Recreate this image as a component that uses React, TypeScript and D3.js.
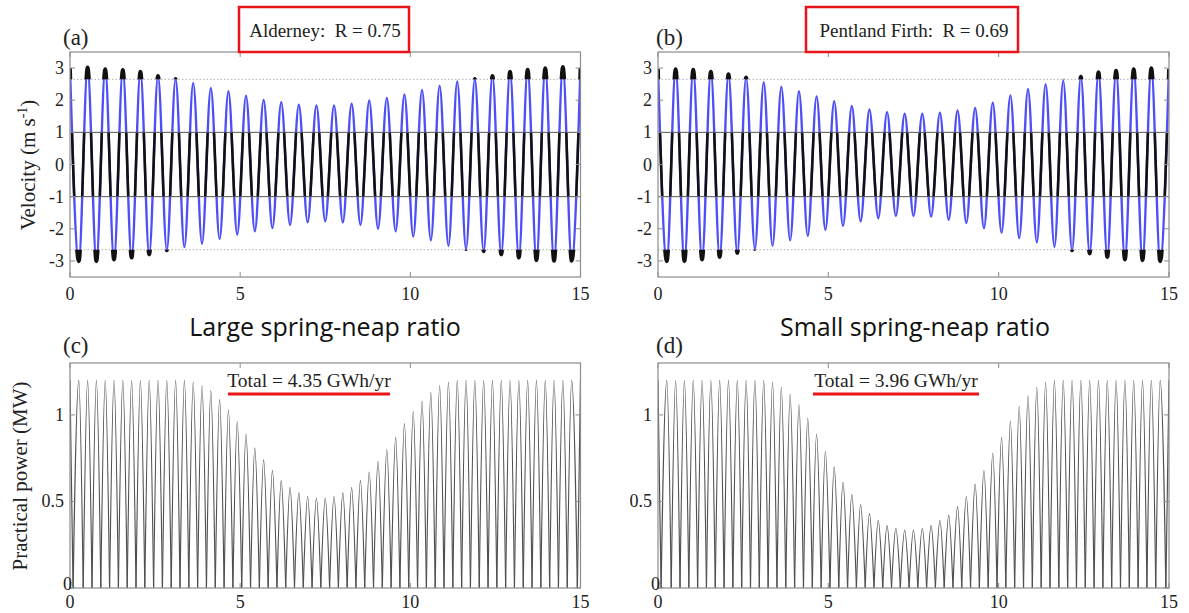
import React from "react";
import * as d3 from "d3";

// ---- data ----
const HALF_PERIOD = 0.2586; // days between successive flood / ebb extremes
const CUT_IN = 1.0; // m/s
const RATED = 2.65; // m/s

const dayTicks = [0, 5, 10, 15];
const velocityTicks = [-3, -2, -1, 0, 1, 2, 3];
const powerTicks = [0, 0.5, 1];

// flood (positive) peak speeds, one per tidal cycle
const alderneyFlood = [3.0, 3.02, 2.97, 2.94, 2.89, 2.76, 2.66, 2.54, 2.38, 2.28, 2.14, 2.01, 1.94, 1.86, 1.84, 1.84, 1.89, 1.99, 2.07, 2.18, 2.32, 2.45, 2.58, 2.66, 2.76, 2.89, 2.95, 3.0, 3.04, 3.0];
// ebb (negative) peak speeds
const alderneyEbb = [-3.01, -3.01, -2.96, -2.9, -2.8, -2.67, -2.57, -2.47, -2.32, -2.18, -2.08, -1.98, -1.88, -1.8, -1.77, -1.8, -1.88, -2.0, -2.08, -2.24, -2.36, -2.53, -2.63, -2.7, -2.8, -2.9, -2.98, -3.0, -3.0];

const pentlandFlood = [2.97, 2.97, 2.95, 2.89, 2.81, 2.71, 2.56, 2.42, 2.28, 2.12, 1.97, 1.82, 1.71, 1.63, 1.58, 1.58, 1.61, 1.68, 1.76, 1.92, 2.15, 2.35, 2.5, 2.61, 2.73, 2.87, 2.92, 2.97, 3.0, 2.97];
const pentlandEbb = [-3.01, -3.01, -2.96, -2.88, -2.75, -2.63, -2.53, -2.36, -2.22, -2.03, -1.91, -1.77, -1.67, -1.6, -1.6, -1.62, -1.72, -1.82, -1.98, -2.12, -2.29, -2.42, -2.56, -2.67, -2.77, -2.88, -2.96, -2.98, -3.01];

// practical power peak per half tidal cycle (MW)
const alderneyPower = [1.2, 1.2, 1.2, 1.2, 1.2, 1.2, 1.2, 1.2, 1.2, 1.2, 1.2, 1.2, 1.2, 1.2,
  1.19, 1.17, 1.14, 1.09, 1.03, 0.96, 0.89, 0.81, 0.74, 0.68, 0.62, 0.58, 0.55, 0.53, 0.52,
  0.52, 0.53, 0.55, 0.58, 0.62, 0.67, 0.73, 0.8, 0.87, 0.95, 1.02, 1.08, 1.13, 1.17, 1.19,
  1.2, 1.2, 1.2, 1.2, 1.2, 1.2, 1.2, 1.2, 1.2, 1.2, 1.2, 1.2, 1.2, 1.2, 1.2];
const pentlandPower = [1.2, 1.2, 1.2, 1.2, 1.2, 1.2, 1.2, 1.2, 1.2, 1.2, 1.2, 1.2, 1.2,
  1.19, 1.16, 1.12, 1.06, 0.98, 0.89, 0.79, 0.7, 0.61, 0.54, 0.48, 0.43, 0.39, 0.36, 0.345,
  0.335, 0.335, 0.345, 0.36, 0.39, 0.42, 0.47, 0.53, 0.6, 0.68, 0.78, 0.87, 0.965, 1.05,
  1.11, 1.16, 1.19,
  1.2, 1.2, 1.2, 1.2, 1.2, 1.2, 1.2, 1.2, 1.2, 1.2, 1.2, 1.2, 1.2, 1.2];

const siteNames = ["Alderney", "Pentland Firth"];
const siteR = ["0.75", "0.69"];
const totals = ["4.35", "3.96"];
const ratioTitles = ["Large spring-neap ratio", "Small spring-neap ratio"];

// ---- layout ----
const W = 1189;
const H = 613;
const COLS = [
  [70, 580.5],
  [658, 1169],
];
const TOP_ROW = [52, 277];
const BOT_ROW = [363, 588];
const SERIF = "'Liberation Serif', 'Times New Roman', serif";
const SANS = "'Open Sans', 'Noto Sans', sans-serif";

function Frame({ x, y, xt, yt, tickLen = 5 }: any) {
  const [x0, x1] = x.range();
  const [y1, y0] = y.range();
  return (
    <g>
      <rect x={x0} y={y0} width={x1 - x0} height={y1 - y0} fill="none" stroke="#8c8c8c" strokeWidth={1.2} />
      {xt.map((t: number) => (
        <g key={"xt" + t} stroke="#8c8c8c" strokeWidth={1}>
          <line x1={x(t)} x2={x(t)} y1={y1} y2={y1 - tickLen} />
          <line x1={x(t)} x2={x(t)} y1={y0} y2={y0 + tickLen} />
        </g>
      ))}
      {yt.map((t: number) => (
        <g key={"yt" + t} stroke="#8c8c8c" strokeWidth={1}>
          <line x1={x0} x2={x0 + tickLen} y1={y(t)} y2={y(t)} />
          <line x1={x1} x2={x1 - tickLen} y1={y(t)} y2={y(t)} />
        </g>
      ))}
    </g>
  );
}

function VelocityPanel({ col, flood, ebb, id }: any) {
  const [px0, px1] = COLS[col];
  const x = d3.scaleLinear().domain([0, 15]).range([px0, px1]);
  const y = d3.scaleLinear().domain([-3.5, 3.5]).range([TOP_ROW[1], TOP_ROW[0]]);
  const n = flood.length + ebb.length;
  const pts: [number, number][] = [];
  for (let k = 0; k < n; k++) {
    pts.push([k * HALF_PERIOD, k % 2 === 0 ? flood[k / 2] : ebb[(k - 1) / 2]]);
  }
  const line = d3
    .line<[number, number]>()
    .x((d) => x(d[0]))
    .y((d) => y(d[1]))
    .curve(d3.curveMonotoneX);
  const path = line(pts) || "";
  const [y1, y0] = y.range();
  return (
    <g>
      <defs>
        <clipPath id={id + "-plot"}>
          <rect x={px0} y={y0} width={px1 - px0} height={y1 - y0} />
        </clipPath>
        <clipPath id={id + "-band"}>
          <rect x={px0} y={y(CUT_IN)} width={px1 - px0} height={y(-CUT_IN) - y(CUT_IN)} />
        </clipPath>
        <clipPath id={id + "-peak"}>
          <rect x={px0} y={y0 - 2} width={px1 - px0} height={y(RATED) - y0 + 2} />
          <rect x={px0} y={y(-RATED)} width={px1 - px0} height={y1 - y(-RATED) + 2} />
        </clipPath>
      </defs>
      {[RATED, -RATED].map((v) => (
        <line key={"r" + v} x1={px0} x2={px1} y1={y(v)} y2={y(v)} stroke="#b0b0b0" strokeWidth={1} strokeDasharray="1.5 2" />
      ))}
      <g clipPath={`url(#${id}-plot)`}>
        <path d={path} fill="none" stroke="#4f4ff7" strokeWidth={2.4} />
        <path d={path} fill="none" stroke="#111" strokeWidth={2.6} clipPath={`url(#${id}-band)`} />
        <path d={path} fill="none" stroke="#111" strokeWidth={3.8} clipPath={`url(#${id}-peak)`} />
      </g>
      {[CUT_IN, -CUT_IN].map((v) => (
        <line key={"c" + v} x1={px0} x2={px1} y1={y(v)} y2={y(v)} stroke="#555" strokeWidth={1} />
      ))}
      <Frame x={x} y={y} xt={dayTicks} yt={velocityTicks} />
      {velocityTicks.map((t) => (
        <text key={"vl" + t} x={px0 - 6} y={y(t) + 6} textAnchor="end" fontFamily={SERIF} fontSize={18} fill="#222">
          {t < 0 ? "-" + Math.abs(t) : t}
        </text>
      ))}
      {dayTicks.map((t) => (
        <text key={"dl" + t} x={x(t)} y={300} textAnchor="middle" fontFamily={SERIF} fontSize={18} fill="#222">
          {t}
        </text>
      ))}
    </g>
  );
}

function PowerPanel({ col, power, id }: any) {
  const [px0, px1] = COLS[col];
  const x = d3.scaleLinear().domain([0, 15]).range([px0, px1]);
  const y = d3.scaleLinear().domain([0, 1.3]).range([BOT_ROW[1], BOT_ROW[0]]);
  // signed series: flood pulses up, ebb pulses down; the ebb half is folded back above zero
  const pts: [number, number][] = power.map((p: number, k: number) => [k * HALF_PERIOD, k % 2 === 0 ? p : -p]);
  const line = d3
    .line<[number, number]>()
    .x((d) => x(d[0]))
    .y((d) => y(d[1]))
    .curve(d3.curveMonotoneX);
  const d = line(pts) || "";
  const [y1, y0] = y.range();
  const zero = y(0);
  return (
    <g>
      <defs>
        <clipPath id={id + "-plot"}>
          <rect x={px0} y={y0} width={px1 - px0} height={zero - y0} />
        </clipPath>
      </defs>
      <g clipPath={`url(#${id}-plot)`}>
        <path d={d} fill="none" stroke="#505050" strokeWidth={1.15} />
        <g transform={`translate(0,${2 * zero}) scale(1,-1)`}>
          <path d={d} fill="none" stroke="#505050" strokeWidth={1.15} />
        </g>
      </g>
      <Frame x={x} y={y} xt={dayTicks} yt={powerTicks} />
      {powerTicks.map((t) => (
        <text
          key={"pl" + t}
          x={t === 0 ? px0 + 2 : px0 - 6}
          y={t === 0 ? y(t) + 2 : y(t) + 6}
          textAnchor="end"
          fontFamily={SERIF}
          fontSize={18}
          fill="#222"
        >
          {t}
        </text>
      ))}
      {dayTicks.map((t) => (
        <text key={"dl" + t} x={x(t)} y={608} textAnchor="middle" fontFamily={SERIF} fontSize={18} fill="#222">
          {t}
        </text>
      ))}
    </g>
  );
}

export default function App() {
  const boxes = [
    [239, 409],
    [806, 1018],
  ];
  const underlines = [
    [228, 390],
    [813, 979],
  ];
  const titleCx = [325, 914];
  return (
    <svg width={W} height={H} style={{ position: "absolute", left: 0, top: 0, background: "#fff" }}>
      <rect x={0} y={0} width={W} height={H} fill="#fff" />
      <VelocityPanel col={0} flood={alderneyFlood} ebb={alderneyEbb} id="va" />
      <VelocityPanel col={1} flood={pentlandFlood} ebb={pentlandEbb} id="vb" />
      <PowerPanel col={0} power={alderneyPower} id="pc" />
      <PowerPanel col={1} power={pentlandPower} id="pd" />

      {/* panel letters */}
      {["(a)", "(b)"].map((s, i) => (
        <text key={s} x={COLS[i][0] - 7 + (i === 1 ? 5 : 0)} y={45} fontFamily={SERIF} fontSize={23} fill="#222">
          {s}
        </text>
      ))}
      {["(c)", "(d)"].map((s, i) => (
        <text key={s} x={COLS[i][0] - 7 + (i === 1 ? 5 : 0)} y={353} fontFamily={SERIF} fontSize={23} fill="#222">
          {s}
        </text>
      ))}

      {/* site boxes */}
      {boxes.map(([a, b], i) => (
        <g key={"box" + i}>
          <rect x={a} y={7} width={b - a} height={45} fill="#fff" stroke="#e8141a" strokeWidth={2.5} />
          <text x={titleCx[i]} y={37} textAnchor="middle" fontFamily={SERIF} fontSize={19} fill="#222" style={{ whiteSpace: "pre" }}>
            {siteNames[i] + ":  R = " + siteR[i]}
          </text>
        </g>
      ))}

      {/* spring-neap titles */}
      {ratioTitles.map((s, i) => (
        <text key={s} x={i === 0 ? 325 : 915} y={336} textAnchor="middle" fontFamily={SANS} fontSize={25} fill="#111">
          {s}
        </text>
      ))}

      {/* totals */}
      {underlines.map(([a, b], i) => (
        <g key={"tot" + i}>
          <text x={(a + b) / 2} y={387} textAnchor="middle" fontFamily={SERIF} fontSize={19.5} fill="#222">
            {"Total = " + totals[i] + " GWh/yr"}
          </text>
          <line x1={a} x2={b} y1={394} y2={394} stroke="#e8141a" strokeWidth={3} />
        </g>
      ))}

      {/* y-axis labels */}
      <text transform="translate(35,165) rotate(-90)" textAnchor="middle" fontFamily={SERIF} fontSize={21} fill="#222">
        Velocity (m s
        <tspan dy={-8} fontSize={14}>-1</tspan>
        <tspan dy={8}>)</tspan>
      </text>
      <text transform="translate(27,476) rotate(-90)" textAnchor="middle" fontFamily={SERIF} fontSize={21} fill="#222">
        Practical power (MW)
      </text>
    </svg>
  );
}
